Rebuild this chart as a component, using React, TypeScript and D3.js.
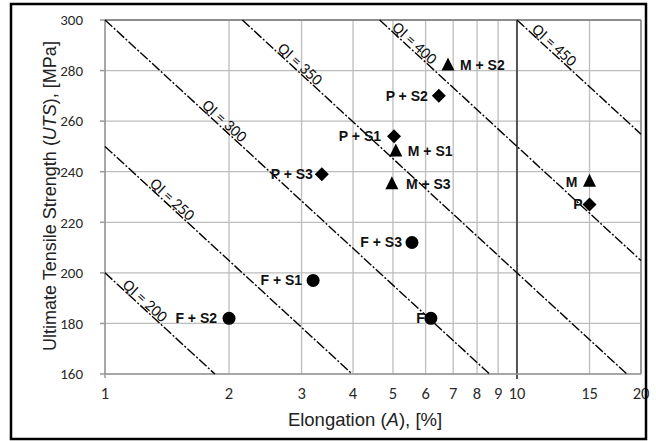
import React, { useMemo } from "react";
import * as d3 from "d3";

const W = 656;
const H = 441;
const margin = { top: 20, right: 15, bottom: 67, left: 105 };

const tickFont = "Carlito, Liberation Sans Narrow, Liberation Sans, Arial, sans-serif";
const titleFont = "Liberation Sans, Arial, sans-serif";

// x axis (log) ticks and y ticks
const xTicks = [1, 2, 3, 4, 5, 6, 7, 8, 9, 10, 15, 20];
const yTicks = [160, 180, 200, 220, 240, 260, 280, 300];

// quality index lines, QI = UTS + 150 log(A)
const qiValues = [200, 250, 300, 350, 400, 450];
const qiLabelAt = [1.22, 1.42, 1.9, 2.9, 5.5, 12]; // elongation where label sits

// samples
const names = ["F + S2", "F + S1", "F + S3", "F", "P + S3", "P + S1", "P + S2", "P", "M + S3", "M + S1", "M + S2", "M"];
const elong = [2.0, 3.2, 5.56, 6.18, 3.36, 5.03, 6.46, 15, 4.97, 5.08, 6.8, 15];
const uts = [182, 197, 212, 182, 239, 254, 270, 227, 235, 248, 282, 236];
const shapes = ["circle", "circle", "circle", "circle", "diamond", "diamond", "diamond", "diamond", "triangle", "triangle", "triangle", "triangle"];

// where the label goes relative to the marker
const labelDx: Record<string, number> = {
  "F + S2": -12, "F + S1": -11, "F + S3": -10, F: -6,
  "P + S3": -9, "P + S1": -13, "P + S2": -11, P: -7,
  "M + S3": 14, "M + S1": 12, "M + S2": 12, M: -12,
};

const App = () => {
  const x = useMemo(() => d3.scaleLog().domain([1, 20]).range([margin.left, W - margin.right]), []);
  const y = useMemo(() => d3.scaleLinear().domain([160, 300]).range([H - margin.bottom, margin.top]), []);

  const x0 = x.range()[0], x1 = x.range()[1];
  const y0 = y.range()[0], y1 = y.range()[1];

  const qiUts = (qi: number, a: number) => qi - 150 * Math.log10(a);

  const qiLine = d3.line<number[]>().x((d) => x(d[0])).y((d) => y(d[1]));

  const qiPaths = qiValues.map((qi) => {
    const aStart = Math.max(1, Math.pow(10, (qi - 300) / 150));
    const aEnd = Math.min(20, Math.pow(10, (qi - 160) / 150));
    return qiLine([[aStart, qiUts(qi, aStart)], [aEnd, qiUts(qi, aEnd)]]);
  });

  // slope angle in pixels
  const angle = (Math.atan2(y(qiUts(300, 10)) - y(qiUts(300, 1)), x(10) - x(1)) * 180) / Math.PI;

  const marker = (shape: string, cx: number, cy: number) => {
    if (shape === "circle") return <circle cx={cx} cy={cy} r={6.5} fill="black" />;
    if (shape === "diamond")
      return <path d={`M${cx},${cy - 7}L${cx + 7},${cy}L${cx},${cy + 7}L${cx - 7},${cy}Z`} fill="black" />;
    return <path d={`M${cx},${cy - 8}L${cx + 6.5},${cy + 5}L${cx - 6.5},${cy + 5}Z`} fill="black" />;
  };

  return (
    <svg width={W} height={H} style={{ position: "absolute", left: 0, top: 0, background: "white" }}>
      <rect x={0} y={0} width={W} height={H} fill="white" />
      {/* grid */}
      <g>
        {yTicks.map((t) => (
          <line key={"gy" + t} x1={x0} x2={x1} y1={y(t)} y2={y(t)} stroke="#bdbdbd" strokeWidth={1.3} />
        ))}
        {xTicks.map((t) => (
          <line key={"gx" + t} x1={x(t)} x2={x(t)} y1={y0} y2={y1} stroke="#bdbdbd" strokeWidth={1.3} />
        ))}
        <line x1={x(10)} x2={x(10)} y1={y1} y2={y0 + 5} stroke="#555" strokeWidth={2} />
        <line x1={x0} x2={x1} y1={y1} y2={y1} stroke="#777" strokeWidth={1.5} />
        <line x1={x1} x2={x1} y1={y1} y2={y0} stroke="#888" strokeWidth={1.5} />
        <line x1={x0} x2={x0} y1={y1} y2={y0 + 4} stroke="#999" strokeWidth={1.5} />
        <line x1={x0} x2={x1} y1={y0} y2={y0} stroke="#999" strokeWidth={1.5} />
        {yTicks.map((t) => (
          <line key={"ty" + t} x1={x0 - 5} x2={x0} y1={y(t)} y2={y(t)} stroke="#999" strokeWidth={1.5} />
        ))}
      </g>

      {/* QI lines */}
      <g>
        {qiPaths.map((p, i) => (
          <path key={"qi" + i} d={p || ""} fill="none" stroke="black" strokeWidth={1.4} strokeDasharray="10 2 2 2" />
        ))}
        {qiValues.map((qi, i) => {
          const a = qiLabelAt[i];
          const px = x(a);
          const py = y(qiUts(qi, a));
          return (
            <text
              key={"ql" + i}
              transform={`translate(${px},${py}) rotate(${angle})`}
              y={-1.5}
              textAnchor="middle"
              fontFamily={tickFont}
              fontSize={16}
              fill="#111"
            >
              {"QI = " + qi}
            </text>
          );
        })}
      </g>

      {/* tick labels */}
      <g fontFamily={tickFont} fill="#2a2a2a">
        {yTicks.map((t) => (
          <text key={"ly" + t} x={x0 - 22} y={y(t)} dy="0.35em" textAnchor="end" fontSize={15}>
            {t}
          </text>
        ))}
        {xTicks.map((t) => (
          <text key={"lx" + t} x={x(t)} y={y0 + 19} dy="0.35em" textAnchor="middle" fontSize={16.5}>
            {t}
          </text>
        ))}
      </g>

      {/* axis titles */}
      <text x={365} y={426} textAnchor="middle" fontFamily={titleFont} fontSize={18.5} fill="#222">
        Elongation (<tspan fontStyle="italic">A</tspan>), [%]
      </text>
      <text
        transform={`translate(56,${(y0 + y1) / 2 - 1}) rotate(-90)`}
        textAnchor="middle"
        fontFamily={titleFont}
        fontSize={18}
        fill="#222"
      >
        Ultimate Tensile Strength (<tspan fontStyle="italic">UTS</tspan>), [MPa]
      </text>

      {/* samples */}
      <g>
        {names.map((n, i) => {
          const cx = x(elong[i]);
          const cy = y(uts[i]);
          const dx = labelDx[n];
          return (
            <g key={n}>
              {marker(shapes[i], cx, cy)}
              <text
                x={cx + dx}
                y={cy}
                dy="0.35em"
                textAnchor={dx < 0 ? "end" : "start"}
                fontFamily={titleFont}
                fontWeight="bold"
                fontSize={14}
                fill="#111"
              >
                {n}
              </text>
            </g>
          );
        })}
      </g>

      {/* outer frame */}
      <rect x={11} y={4} width={635} height={435} fill="none" stroke="black" strokeWidth={2.5} />
    </svg>
  );
};

export default App;
